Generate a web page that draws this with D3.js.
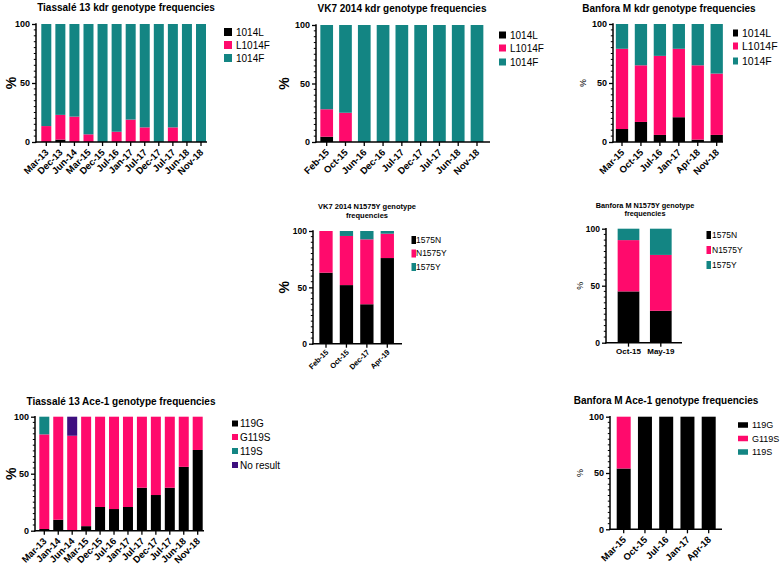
<!DOCTYPE html>
<html><head><meta charset="utf-8">
<script src="https://cdn.jsdelivr.net/npm/d3@7"></script>
<style>
body{margin:0;background:#fff;}
svg{display:block;font-family:"Liberation Sans",Arial,sans-serif;}
</style></head>
<body>
<svg id="chart" width="784" height="566"></svg>
<script>
// ---------- DATA ----------
const tiaKdrCats = ["Mar-13","Dec-13","Jun-14","Mar-15","Dec-15","Jul-16","Jan-17","Jul-17","Dec-17","Jul-17","Jun-18","Nov-18"];
const tiaKdr_1014L  = [0, 2, 0, 0, 0, 0, 0, 0, 0, 0, 0, 0];
const tiaKdr_L1014F = [13.5, 21, 21.5, 6.5, 0, 8.7, 19, 12.4, 0, 12.4, 0, 0];

const vk7KdrCats = ["Feb-15","Oct-15","Jun-16","Dec-16","Jul-17","Dec-17","Jul-17","Jun-18","Nov-18"];
const vk7Kdr_1014L  = [4.5, 0, 0, 0, 0, 0, 0, 0, 0];
const vk7Kdr_L1014F = [23.5, 25, 0, 0, 0, 0, 0, 0, 0];

const banKdrCats = ["Mar-15","Oct-15","Jul-16","Jan-17","Apr-18","Nov-18"];
const banKdr_1014L  = [11, 17, 6, 21, 2, 6];
const banKdr_L1014F = [68, 48, 67, 58, 63, 52];

const vk7NCats = ["Feb-15","Oct-15","Dec-17","Apr-19"];
const vk7N_1575N  = [63, 52, 35, 76];
const vk7N_N1575Y = [37, 43.6, 57.6, 21.6];

const banNCats = ["Oct-15","May-19"];
const banN_1575N  = [45, 28];
const banN_N1575Y = [45, 49];

const tiaAceCats = ["Mar-13","Jan-14","Jun-14","Mar-15","Dec-15","Jul-16","Jan-17","Jul-17","Dec-17","Jul-17","Jun-18","Nov-18"];
const tiaAce_119G  = [1.5, 9.6, 0, 4, 20.8, 19, 20.8, 37.7, 31.3, 37.7, 56, 70.8];
const tiaAce_119S  = [15.5, 0, 0, 0, 0, 0, 0, 0, 0, 0, 0, 0];
const tiaAce_NoRes = [0, 0, 16.7, 0, 0, 0, 0, 0, 0, 0, 0, 0];

const banAceCats = ["Mar-15","Oct-15","Jul-16","Jan-17","Apr-18"];
const banAce_119G  = [54, 100, 100, 100, 100];
const banAce_G119S = [46, 0, 0, 0, 0];

const yTicks = [0, 50, 100];

const C_BLACK = "#000000", C_PINK = "#FF0A6C", C_TEAL = "#138583", C_PURPLE = "#3E0F7F";

// ---------- build stacked rows ----------
function rows(cats, seriesArr){
  return cats.map((c,i)=>{
    const r = {key: i, label: c};
    seriesArr.forEach(s=>{ r[s.name] = s.vals ? s.vals[i] : null; });
    return r;
  });
}
function withRemainder(cats, seriesArr, remName){
  const rs = rows(cats, seriesArr);
  rs.forEach(r=>{
    let sum = 0; seriesArr.forEach(s=>{ if(s.name!==remName) sum += r[s.name]||0; });
    r[remName] = Math.max(0, 100 - sum);
  });
  return rs;
}

const svg = d3.select("#chart");

function panel(cfg){
  const g = svg.append("g");
  const n = cfg.cats.length;
  const step = n>1 ? (cfg.cN - cfg.c0)/(n-1) : 30;
  const pin = 1 - cfg.bw/step;
  const x = d3.scaleBand().domain(d3.range(n))
      .range([cfg.c0 - step/2, cfg.cN + step/2]).paddingInner(pin).paddingOuter(pin/2);
  const y = d3.scaleLinear().domain([0,100]).range([cfg.y0, cfg.y100]);
  const keys = cfg.series.map(s=>s.name);
  const stack = d3.stack().keys(keys)(cfg.data);
  g.selectAll("g.layer").data(stack).join("g")
    .attr("fill", (d,i)=>cfg.series[i].color)
    .selectAll("rect").data(d=>d).join("rect")
    .attr("x", d=>x(d.data.key)).attr("width", x.bandwidth())
    .attr("y", d=>y(d[1])).attr("height", d=>Math.max(0, y(d[0])-y(d[1])));

  // y axis
  const ya = d3.axisLeft(y).tickValues(yTicks).tickSize(cfg.tk||4).tickPadding(2);
  const yg = g.append("g").attr("transform",`translate(${cfg.ax},0)`).call(ya);
  yg.select(".domain").remove();
  yg.selectAll("line").attr("stroke","#000").attr("stroke-width",1.3);
  yg.selectAll("text").attr("font-size",cfg.ytFs).attr("font-weight","bold").attr("fill","#000")
    .attr("font-family","'Liberation Sans',Arial,sans-serif");
  // minor ticks
  const minor = d3.range(0,101,5).filter(v=>v%50!==0);
  g.append("g").selectAll("line").data(minor).join("line")
    .attr("x1",cfg.ax-2.2).attr("x2",cfg.ax).attr("y1",d=>y(d)).attr("y2",d=>y(d))
    .attr("stroke","#000").attr("stroke-width",1);
  // axis lines
  g.append("line").attr("x1",cfg.ax).attr("x2",cfg.ax).attr("y1",cfg.y0+0.7).attr("y2",cfg.y100-0.7)
    .attr("stroke","#000").attr("stroke-width",1.5);
  g.append("line").attr("x1",cfg.ax-0.7).attr("x2",cfg.axEnd).attr("y1",cfg.y0).attr("y2",cfg.y0)
    .attr("stroke","#000").attr("stroke-width",1.5);
  // x ticks
  const xa = d3.axisBottom(x).tickSize(4).tickFormat(i=>cfg.cats[i]);
  const xg = g.append("g").attr("transform",`translate(0,${cfg.y0})`).call(xa);
  xg.select(".domain").remove();
  xg.selectAll("line").attr("stroke","#000").attr("stroke-width",1.3);
  xg.selectAll("text").attr("font-size",cfg.xtFs).attr("font-weight","bold").attr("fill","#000")
    .attr("font-family","'Liberation Sans',Arial,sans-serif");
  if(cfg.rot){
    xg.selectAll("text").attr("text-anchor","end").attr("y",0).attr("dy","0")
      .attr("transform",`translate(${cfg.rdx||3},${cfg.rdy||11}) rotate(-45)`);
  } else {
    xg.selectAll("text").attr("y",6).attr("dy","0.71em");
  }
  // y label
  g.append("text").attr("transform",`translate(${cfg.pctX},${(cfg.y0+cfg.y100)/2}) rotate(-90)`)
    .attr("text-anchor","middle").attr("dy","0.35em")
    .attr("font-size",cfg.pctFs).attr("font-weight",cfg.pctW||"bold").text("%");
  // title
  const t = g.append("text").attr("x",cfg.tx).attr("y",cfg.ty).attr("text-anchor","middle")
    .attr("font-size",cfg.tFs).attr("font-weight","bold");
  cfg.title.forEach((line,i)=>{
    t.append("tspan").attr("x",cfg.tx).attr("dy", i===0?0:cfg.tLh).text(line);
  });
  // legend
  const lg = g.append("g");
  cfg.legend.forEach((s,i)=>{
    const yy = cfg.ly[i];
    lg.append("rect").attr("x",cfg.lsx).attr("y",yy-cfg.lsh/2).attr("width",cfg.lsw).attr("height",cfg.lsh).attr("fill",s.color);
    lg.append("text").attr("x",cfg.ltx).attr("y",yy).attr("dy","0.35em").attr("font-size",cfg.lFs).text(s.name);
  });
}

// ---------- PANELS ----------
const kdrSeries = [{name:"1014L",color:C_BLACK},{name:"L1014F",color:C_PINK},{name:"1014F",color:C_TEAL}];
const nSeries = [{name:"1575N",color:C_BLACK},{name:"N1575Y",color:C_PINK},{name:"1575Y",color:C_TEAL}];
const aceSeries4 = [{name:"119G",color:C_BLACK},{name:"G119S",color:C_PINK},{name:"119S",color:C_TEAL},{name:"No result",color:C_PURPLE}];
const aceSeries3 = [{name:"119G",color:C_BLACK},{name:"G119S",color:C_PINK},{name:"119S",color:C_TEAL}];

panel({cats:tiaKdrCats, series:kdrSeries, legend:kdrSeries,
  data: withRemainder(tiaKdrCats,[{name:"1014L",vals:tiaKdr_1014L},{name:"L1014F",vals:tiaKdr_L1014F},{name:"1014F"}],"1014F"),
  c0:46.3, cN:201, bw:10, ax:36, axEnd:207, y0:142, y100:24,
  ytFs:9, xtFs:9.5, rot:true, pctX:11, pctFs:14,
  title:["Tiassalé 13 kdr genotype frequencies"], tx:126, ty:10.5, tFs:10,
  lsx:224, lsw:8, lsh:8, ltx:236, ly:[32,45,58], lFs:10});

panel({cats:vk7KdrCats, series:kdrSeries, legend:kdrSeries,
  data: withRemainder(vk7KdrCats,[{name:"1014L",vals:vk7Kdr_1014L},{name:"L1014F",vals:vk7Kdr_L1014F},{name:"1014F"}],"1014F"),
  c0:326.7, cN:477, bw:12.7, ax:316, axEnd:490, y0:142, y100:25,
  ytFs:9, xtFs:9.5, rot:true, pctX:284, pctFs:14,
  title:["VK7 2014 kdr genotype frequencies"], tx:402, ty:11.5, tFs:10,
  lsx:499, lsw:7, lsh:7, ltx:510, ly:[35,48,62], lFs:10});

panel({cats:banKdrCats, series:kdrSeries, legend:kdrSeries,
  data: withRemainder(banKdrCats,[{name:"1014L",vals:banKdr_1014L},{name:"L1014F",vals:banKdr_L1014F},{name:"1014F"}],"1014F"),
  c0:622, cN:716.7, bw:12.3, ax:613, axEnd:723, y0:142, y100:24,
  ytFs:9, xtFs:9.5, rot:true, pctX:583, pctFs:8.5, pctW:"normal",
  title:["Banfora M kdr genotype frequencies"], tx:669, ty:11.5, tFs:10,
  lsx:733, lsw:5, lsh:7, ltx:742, ly:[33,46,61], lFs:10.5});

panel({cats:vk7NCats, series:nSeries, legend:nSeries,
  data: withRemainder(vk7NCats,[{name:"1575N",vals:vk7N_1575N},{name:"N1575Y",vals:vk7N_N1575Y},{name:"1575Y"}],"1575Y"),
  c0:326, cN:387.3, bw:13.3, ax:313, axEnd:402, y0:343.7, y100:231,
  ytFs:8.5, xtFs:7.5, rot:true, rdx:3, rdy:9, pctX:284, pctFs:14,
  title:["VK7 2014 N1575Y genotype","frequencies"], tx:367, ty:208.5, tLh:9.5, tFs:7.5,
  lsx:411.5, lsw:4.5, lsh:8, ltx:416, ly:[240,253.5,267], lFs:8.5});

panel({cats:banNCats, series:nSeries, legend:nSeries,
  data: withRemainder(banNCats,[{name:"1575N",vals:banN_1575N},{name:"N1575Y",vals:banN_N1575Y},{name:"1575Y"}],"1575Y"),
  c0:628.5, cN:660.8, bw:21.7, ax:606, axEnd:682, y0:342.7, y100:228.7,
  ytFs:8.5, xtFs:8, rot:false, pctX:580, pctFs:9, pctW:"normal",
  title:["Banfora M N1575Y genotype","frequencies"], tx:645, ty:207.5, tLh:8.5, tFs:7.3,
  lsx:706.5, lsw:4.5, lsh:8, ltx:712, ly:[235,250,265], lFs:8.5});

panel({cats:tiaAceCats, series:aceSeries4, legend:aceSeries4,
  data: (function(){ const rs = rows(tiaAceCats,[{name:"119G",vals:tiaAce_119G},{name:"119S",vals:tiaAce_119S},{name:"No result",vals:tiaAce_NoRes},{name:"G119S"}]);
    rs.forEach(r=>{ r["G119S"] = 100 - r["119G"] - r["119S"] - r["No result"]; }); return rs; })(),
  c0:44.3, cN:197.7, bw:10, ax:35, axEnd:204, y0:530.7, y100:416.7,
  ytFs:9, xtFs:9.5, rot:true, pctX:11, pctFs:14,
  title:["Tiassalé 13 Ace-1 genotype frequencies"], tx:121, ty:404.5, tFs:10,
  lsx:232, lsw:6, lsh:6, ltx:240, ly:[423.5,437,451,465], lFs:10});

panel({cats:banAceCats, series:aceSeries3, legend:aceSeries3,
  data: (function(){ const rs = rows(banAceCats,[{name:"119G",vals:banAce_119G},{name:"G119S",vals:banAce_G119S},{name:"119S"}]);
    rs.forEach(r=>{ r["119S"] = Math.max(0, 100 - r["119G"] - r["G119S"]); }); return rs; })(),
  c0:623.7, cN:708.7, bw:14, ax:610, axEnd:722, y0:529.3, y100:416.7,
  ytFs:9, xtFs:9.5, rot:true, pctX:580, pctFs:9, pctW:"normal",
  title:["Banfora M Ace-1 genotype frequencies"], tx:666, ty:404, tFs:10,
  lsx:738, lsw:10, lsh:5.5, ltx:752, ly:[425,438.5,452], lFs:9});
</script>
</body></html>
